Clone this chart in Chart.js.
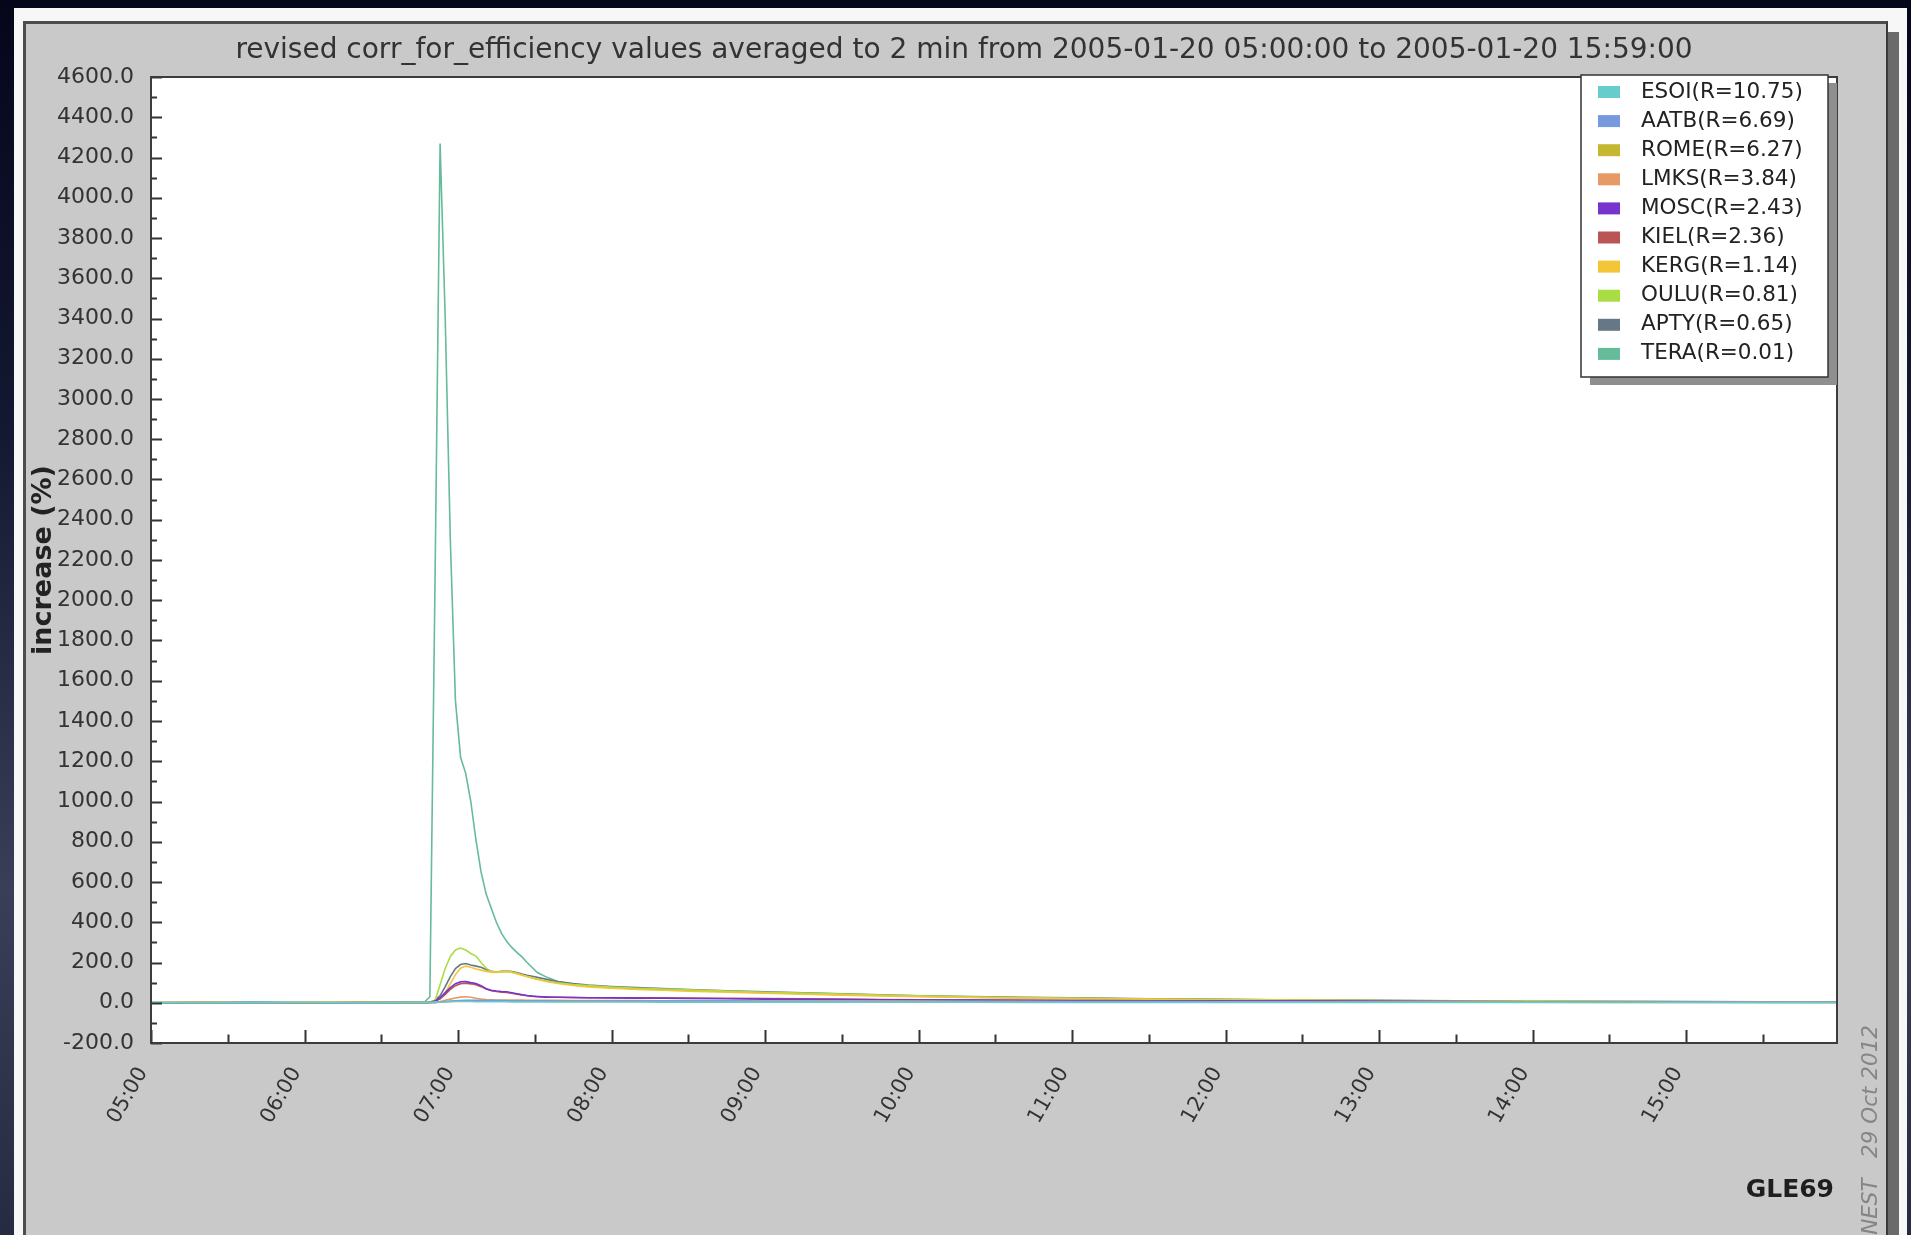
<!DOCTYPE html>
<html>
<head>
<meta charset="utf-8">
<script src="https://cdn.jsdelivr.net/npm/chart.js@4.4.1/dist/chart.umd.min.js"></script>
<style>
html,body{margin:0;padding:0;width:1911px;height:1235px;overflow:hidden;}
body{position:relative;background:linear-gradient(to bottom,#05061a 0%,#141832 35%,#3a3e58 72%,#262a42 100%);}
#white{position:absolute;left:14px;top:8px;width:1893px;height:1300px;background:#f7f7f7;}
#shadow{position:absolute;left:1888px;top:32px;width:11px;height:1300px;background:#6a6a6a;}
#panel{position:absolute;left:23px;top:21px;width:1865px;height:1300px;box-sizing:border-box;background:#c9c9c9;border-left:3px solid #4d4d4d;border-top:3px solid #4d4d4d;border-right:2px solid #3a3a3a;}
#c{position:absolute;left:0;top:0;}
</style>
</head>
<body>
<div id="white"></div><div id="shadow"></div><div id="panel"></div>
<canvas id="c" width="1911" height="1235"></canvas>
<script>
// ---------- texts ----------
const titleText = 'revised corr_for_efficiency values averaged to 2 min from 2005-01-20 05:00:00 to 2005-01-20 15:59:00';
const yAxisTitle = 'increase (%)';
const eventLabel = 'GLE69';
const stampText = 'NEST   29 Oct 2012';

// ---------- stations ----------
const stations = ['ESOI','AATB','ROME','LMKS','MOSC','KIEL','KERG','OULU','APTY','TERA'];
const cutoffs  = [10.75, 6.69, 6.27, 3.84, 2.43, 2.36, 1.14, 0.81, 0.65, 0.01];

// ---------- time points (UT) ----------
const times = ['05:00','05:20','05:40','06:00','06:20','06:40','06:47','06:49','06:51','06:53',
               '06:55','06:57','06:59','07:01','07:03','07:05','07:07','07:09','07:11','07:13',
               '07:15','07:17','07:19','07:21','07:23','07:25','07:27','07:29','07:31','07:35',
               '07:39','07:45','07:51','08:00','08:10','08:20','08:30','08:45','09:00','09:15',
               '09:30','09:45','10:00','10:20','10:40','11:00','11:30','12:00','12:30','13:00',
               '13:30','14:00','14:30','15:00','15:30','15:59'];

// ---------- series values (%) ----------
const esoi = [1,0,2,1,0,1,2,1,2,3, 4,5,6,6,6,6,5,5,5,5, 5,5,5,4,4,4,4,4,4,4, 4,4,4,4,4,3,3,3,3,3, 3,3,3,3,2,2,2,2,2,2, 2,2,1,1,1,1];
const aatb = [0,1,-1,1,0,1,0,1,2,4, 6,8,10,11,12,12,12,11,11,11, 11,11,10,10,10,10,10,10,10,10, 9,9,9,9,9,8,8,8,7,7, 7,6,6,6,5,5,5,4,4,4, 3,3,3,3,2,2];
const rome = [1,0,1,0,1,0,1,1,2,3, 5,6,8,9,10,10,10,9,9,9, 9,9,8,8,8,8,8,8,8,7, 7,7,7,7,6,6,6,6,6,5, 5,5,5,4,4,4,4,3,3,3, 3,3,2,2,2,2];
const lmks = [0,1,0,1,0,1,0,0,2,6, 12,18,24,28,30,27,22,18,16,15, 14,14,13,13,13,13,12,12,12,12, 12,11,11,11,11,10,10,10,9,9, 9,8,8,7,7,6,6,5,5,4, 4,3,3,3,3,2];
const mosc = [0,-1,1,0,-1,1,0,1,8,25, 50,75,95,104,105,100,96,85,70,62, 58,56,55,50,45,40,36,33,31,28, 27,26,25,24,23,22,21,20,18,17, 16,15,14,13,12,11,10,9,8,7, 6,5,5,4,4,3];
const kiel = [0,1,0,-1,1,0,1,1,6,20, 42,66,85,95,97,94,90,80,68,60, 56,53,51,47,43,39,35,32,30,28, 27,26,25,25,24,24,23,22,21,20, 18,16,15,13,12,11,10,9,8,7, 6,5,5,4,3,3];
const kerg = [0,1,-1,0,1,-1,0,0,5,20, 50,95,140,172,182,176,168,162,156,152, 150,153,155,152,146,138,130,122,116,104, 96,86,79,72,66,62,57,52,47,42, 38,34,30,26,23,20,17,14,12,10, 9,7,6,5,4,4];
const oulu = [0,2,1,3,1,2,2,4,10,90, 170,230,262,272,262,245,232,200,172,155, 152,155,157,150,144,137,130,124,118,107, 99,91,85,78,72,68,64,58,52,48, 43,38,34,30,26,23,19,16,13,11, 9,8,6,5,4,3];
const apty = [-2,0,2,-1,1,0,1,3,12,35, 80,130,170,190,195,188,182,176,165,156, 152,156,157,155,150,143,137,132,126,115, 105,95,88,81,76,71,66,60,54,49, 44,40,35,31,27,24,20,17,14,12, 10,8,7,6,5,4];
const tera = [2,1,3,1,2,3,5,30,2080,4270, 3400,2300,1500,1220,1140,1000,810,650,540,470, 400,345,305,275,250,228,200,175,150,125, 106,92,82,75,70,66,62,56,50,45, 40,36,32,28,25,22,18,15,12,10, 8,7,5,4,3,3];
const seriesValues = [esoi, aatb, rome, lmks, mosc, kiel, kerg, oulu, apty, tera];

// ---------- axis ticks ----------
const yMin = -200, yMax = 4600, yStep = 200;
const xStartHour = 5;
const xEndLabel = '15:59';

// ---------- styles ----------
const colors = ['#66cccc','#7799dd','#c4b832','#e89a66','#7733cc','#bb5555','#f2c636','#aadd44','#667788','#66bb99'];

const toHours = t => { const [h, m] = t.split(':').map(Number); return h - xStartHour + m / 60; };
const two = n => String(n).padStart(2, '0');

const datasets = stations.map((s, i) => ({
  label: `${s}(R=${cutoffs[i].toFixed(2)})`,
  data: times.map((t, j) => ({x: toHours(t), y: seriesValues[i][j]})),
  borderColor: colors[i],
  backgroundColor: colors[i],
  borderWidth: 1.6,
  pointRadius: 0,
  tension: 0,
  fill: false
}));

const decor = {
  id: 'decor',
  afterLayout(chart) {
    // widen the y-axis box to the left edge so its labels are not clipped
    chart.scales.y.left = 0;
  },
  beforeDatasetsDraw(chart) {
    const {ctx, chartArea: a} = chart;
    ctx.save();
    ctx.fillStyle = '#ffffff';
    ctx.fillRect(a.left, a.top, a.right - a.left, a.bottom - a.top);
    ctx.restore();
  },
  afterDatasetsDraw(chart) {
    const {ctx, chartArea: a, scales} = chart;
    const xs = scales.x, ys = scales.y;
    ctx.save();
    // inward tick marks
    ctx.strokeStyle = '#333';
    ctx.lineWidth = 2;
    ctx.beginPath();
    for (let v = yMin; v <= yMax; v += yStep / 2) {
      const py = Math.round(ys.getPixelForValue(v)) + 0.5;
      const len = (v % yStep === 0) ? 11 : 6;
      ctx.moveTo(a.left, py); ctx.lineTo(a.left + len, py);
    }
    for (let h = 0; h <= xs.max; h += 0.5) {
      const px = Math.round(xs.getPixelForValue(h)) + 0.5;
      const len = (h % 1 === 0) ? 13 : 8.5;
      ctx.moveTo(px, a.bottom); ctx.lineTo(px, a.bottom - len);
    }
    ctx.stroke();
    // plot frame
    ctx.strokeStyle = '#3c3c3c';
    ctx.lineWidth = 2;
    ctx.strokeRect(a.left, a.top, a.right - a.left, a.bottom - a.top);

    // legend box
    const lx = 1581, ly = 75, lw = 247, lh = 302;
    ctx.fillStyle = '#8e8e8e';
    ctx.fillRect(lx + 9, ly + 8, lw, lh);
    ctx.fillStyle = '#ffffff';
    ctx.fillRect(lx, ly, lw, lh);
    ctx.strokeStyle = '#333';
    ctx.lineWidth = 1.5;
    ctx.strokeRect(lx, ly, lw, lh);
    ctx.font = '21.5px "DejaVu Sans"';
    ctx.textBaseline = 'middle';
    ctx.textAlign = 'left';
    chart.data.datasets.forEach((d, i) => {
      const cy = ly + 17 + i * 29.1;
      ctx.fillStyle = d.borderColor;
      ctx.fillRect(1598, cy - 6, 22, 12);
      ctx.fillStyle = '#222';
      ctx.fillText(d.label, 1641, cy);
    });
    ctx.restore();
  },
  afterDraw(chart) {
    const {ctx} = chart;
    ctx.save();
    ctx.fillStyle = '#1e1e1e';
    ctx.font = 'bold 25px "DejaVu Sans"';
    ctx.textAlign = 'right';
    ctx.textBaseline = 'alphabetic';
    ctx.fillText(eventLabel, 1834, 1197);
    ctx.translate(1871, 1025);
    ctx.rotate(-Math.PI / 2);
    ctx.font = 'italic 21.5px "DejaVu Sans"';
    ctx.fillStyle = '#858585';
    ctx.textAlign = 'right';
    ctx.textBaseline = 'middle';
    ctx.fillText(stampText, 0, 0);
    ctx.restore();
  }
};

new Chart(document.getElementById('c'), {
  type: 'line',
  data: {datasets},
  plugins: [decor],
  options: {
    responsive: false,
    animation: false,
    devicePixelRatio: 1,
    layout: {padding: {left: 91, right: 74, top: 20, bottom: 0}},
    plugins: {
      legend: {display: false},
      tooltip: {enabled: false},
      title: {
        display: true,
        text: titleText,
        color: '#333',
        font: {family: 'DejaVu Sans', size: 28, weight: 'normal', lineHeight: 1.2},
        padding: {top: 13.8, bottom: 9.6}
      }
    },
    scales: {
      x: {
        type: 'linear',
        min: 0,
        max: toHours(xEndLabel),
        grid: {display: false, drawTicks: false},
        border: {display: false},
        ticks: {
          stepSize: 1,
          includeBounds: false,
          autoSkip: false,
          minRotation: 60,
          maxRotation: 60,
          padding: 20,
          labelOffset: -8,
          color: '#333',
          font: {family: 'DejaVu Sans', size: 21},
          callback: v => two(xStartHour + v) + ':00'
        },
        afterFit: s => { s.height = 192; }
      },
      y: {
        type: 'linear',
        min: yMin,
        max: yMax,
        grid: {display: false, drawTicks: false},
        border: {display: false},
        ticks: {
          stepSize: yStep,
          autoSkip: false,
          padding: 17,
          color: '#333',
          font: {family: 'DejaVu Sans', size: 22},
          callback: v => Number(v).toFixed(1)
        },
        title: {
          display: true,
          text: yAxisTitle,
          color: '#222',
          font: {family: 'DejaVu Sans', size: 27, weight: 'bold', lineHeight: 1.2},
          padding: {top: 27.8, bottom: 0}
        },
        afterFit: s => { s.width = 60; }
      }
    }
  }
});
</script>
</body>
</html>
